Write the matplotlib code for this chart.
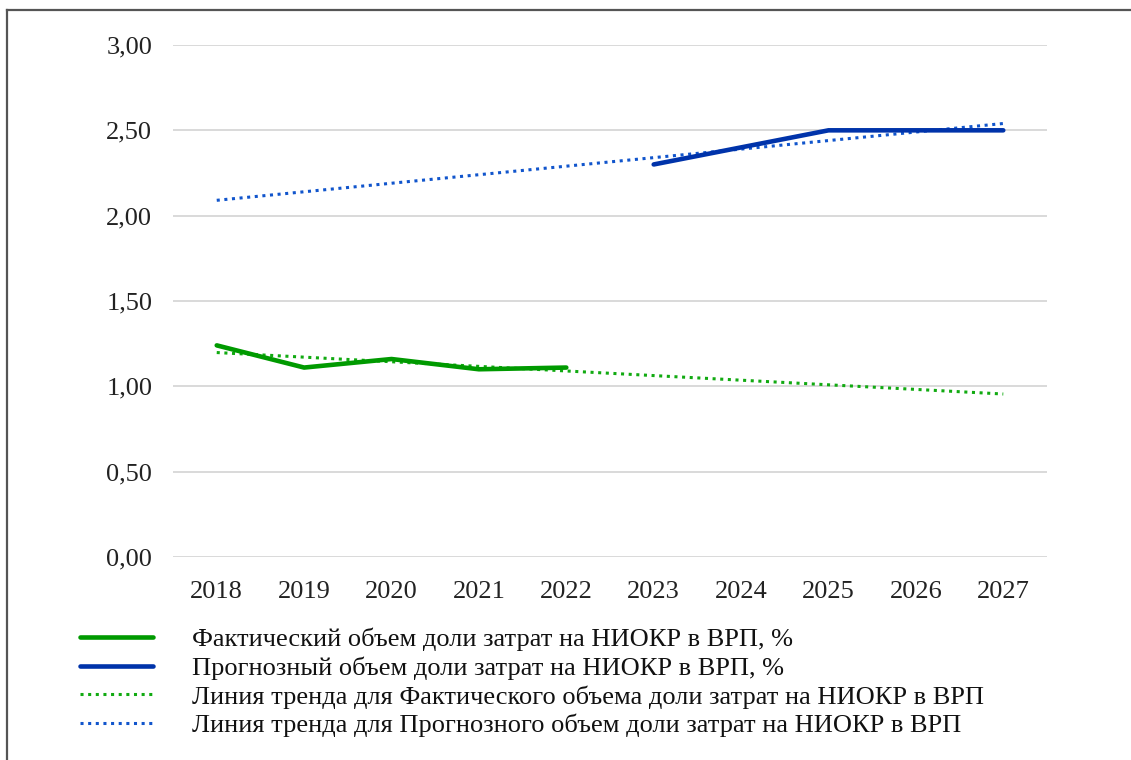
import numpy as np
import matplotlib
matplotlib.use("Agg")
import matplotlib.pyplot as plt
from matplotlib.lines import Line2D

years = ["2018", "2019", "2020", "2021", "2022", "2023", "2024", "2025", "2026", "2027"]
actual_years = ["2018", "2019", "2020", "2021", "2022"]
actual_values = [1.24, 1.11, 1.16, 1.10, 1.11]
forecast_years = ["2023", "2024", "2025", "2026", "2027"]
forecast_values = [2.30, 2.40, 2.50, 2.50, 2.50]
y_ticks = [0.0, 0.5, 1.0, 1.5, 2.0, 2.5, 3.0]
y_tick_labels = ["0,00", "0,50", "1,00", "1,50", "2,00", "2,50", "3,00"]
labels = [
    "Фактический объем доли затрат на НИОКР в ВРП, %",
    "Прогнозный объем доли затрат на НИОКР в ВРП, %",
    "Линия тренда для Фактического объема доли затрат на НИОКР в ВРП",
    "Линия тренда для Прогнозного объем доли затрат на НИОКР в ВРП",
]

plt.rcParams['font.family'] = ['Liberation Serif', 'DejaVu Serif']

fig = plt.figure(figsize=(11.31, 7.6), dpi=100)
ax = fig.add_axes([0.153, 0.2671, 0.7727, 0.6737])

xpos = {y: i for i, y in enumerate(years)}
xa = np.array([xpos[y] for y in actual_years])
xf = np.array([xpos[y] for y in forecast_years])
xall = np.arange(len(years))

green = "#009a00"
green_t = "#11aa11"
blue = "#0033aa"
blue_t = "#1155cc"

# trend lines (linear regression over each series, extended over all years)
pa = np.polyfit(xa, actual_values, 1)
pf = np.polyfit(xf, forecast_values, 1)

l3, = ax.plot(xall, np.polyval(pa, xall), color=green_t, lw=2.2, ls=(0, (1, 1.5)), zorder=3)
l4, = ax.plot(xall, np.polyval(pf, xall), color=blue_t, lw=2.2, ls=(0, (1, 1.5)), zorder=3)
l1, = ax.plot(xa, actual_values, color=green, lw=3.3, solid_capstyle='round', zorder=4)
l2, = ax.plot(xf, forecast_values, color=blue, lw=3.3, solid_capstyle='round', zorder=4)

ax.set_xlim(-0.5, len(years) - 0.5)
ax.set_ylim(0, 3.0)
ax.set_xticks(xall)
ax.set_xticklabels(years)
ax.set_yticks(y_ticks)
ax.set_yticklabels(y_tick_labels)
ax.tick_params(axis='both', length=0, labelsize=19, colors="#222222")
ax.tick_params(axis='y', pad=15)
ax.tick_params(axis='x', pad=17.5)
ax.grid(axis='y', color="#d9d9d9", lw=1.4)
ax.set_axisbelow(True)
for s in ax.spines.values():
    s.set_visible(False)

fig.legend([l1, l2, l3, l4], labels, loc='upper left',
           bbox_to_anchor=(0.0707, 0.1737), frameon=False, fontsize=19,
           handlelength=2.77, handletextpad=1.48, labelspacing=0.19,
           borderpad=0, borderaxespad=0, labelcolor="#111111")

# figure frame (top and left edges)
fig.add_artist(Line2D([0.0062, 1.0], [0.9868, 0.9868], transform=fig.transFigure, color="#555555", lw=1.6))
fig.add_artist(Line2D([0.0062, 0.0062], [0.0, 0.9868], transform=fig.transFigure, color="#555555", lw=1.6))

fig.savefig("out.png", dpi=100, facecolor="white")
